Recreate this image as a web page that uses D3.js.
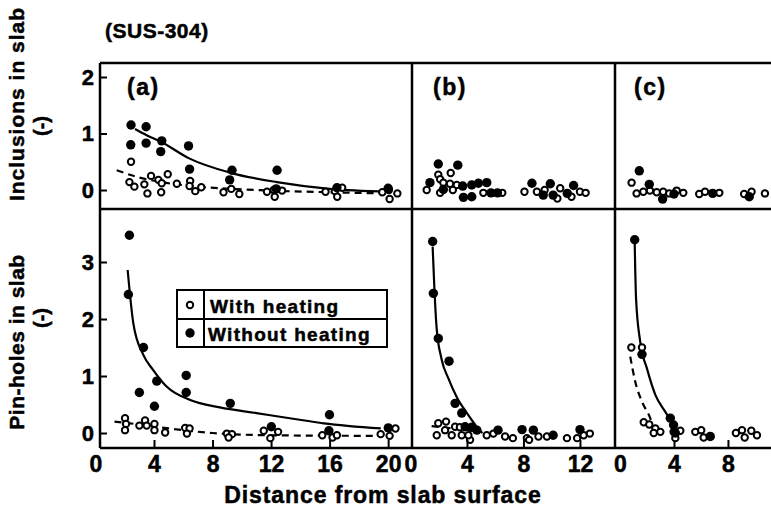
<!DOCTYPE html>
<html><head><meta charset="utf-8">
<script src="https://cdn.jsdelivr.net/npm/d3@7"></script>
<style>
html,body{margin:0;padding:0;background:#fff;}
text{font-family:"Liberation Sans",Arial,sans-serif;font-weight:700;fill:#000;stroke:#000;stroke-width:0.5px;}
</style></head>
<body><svg id="chart" width="771" height="516"></svg>
<script>
// ---------- DATA ----------
const titleText = "(SUS-304)";
const xLabel = "Distance from slab surface";
const yLabelInc = "Inclusions in slab";
const yLabelPin = "Pin-holes in slab";
const unitLabel = "(-)";
const panelNames = ["(a)", "(b)", "(c)"];
const legendLabels = ["With heating", "Without heating"];

const xTicksA = [0, 4, 8, 12, 16, 20];
const xTicksB = [0, 4, 8, 12];
const xTicksC = [0, 4, 8];
const yTicksInc = [0, 1, 2];
const yTicksPin = [0, 1, 2, 3];

// Panel (a) inclusions
const incA_without = [[2.43,1.15],[3.46,1.12],[2.41,0.80],[3.46,0.83],[4.53,0.87],[4.46,0.68],[6.36,0.78],[6.43,0.37],[9.33,0.35],[9.17,0.18],[12.41,0.35],[12.35,0.02],[16.5,0.04],[20.0,0.03]];
const incA_with = [[2.43,0.50],[2.32,0.14],[2.66,0.06],[3.34,0.10],[3.55,-0.06],[3.80,0.25],[4.30,0.18],[4.53,0.12],[4.49,-0.04],[4.94,0.28],[5.56,0.11],[6.47,0.16],[6.43,0.07],[6.82,-0.02],[7.23,0.05],[8.75,-0.04],[9.28,0.02],[9.83,-0.07],[11.72,-0.03],[12.18,0.00],[12.25,-0.12],[12.75,-0.01],[15.72,-0.03],[16.36,-0.02],[16.52,-0.12],[16.86,0.04],[19.60,-0.04],[20.05,0.00],[20.10,-0.16],[20.63,-0.06]];
const incA_fitWithout = [[2.7,1.08],[3.5,0.97],[4.5,0.85],[6.4,0.56],[9.3,0.30],[12.4,0.14],[16.0,0.02],[20.0,-0.03]];
const incA_fitWith = [[1.45,0.35],[3.0,0.22],[4.5,0.14],[7.0,0.06],[11.0,0.0],[16.0,-0.04],[20.0,-0.06]];

// Panel (b) inclusions
const incB_without = [[1.97,0.46],[3.35,0.44],[1.38,0.13],[2.33,0.01],[3.7,0.07],[3.75,-0.13],[4.34,-0.12],[4.34,0.09],[4.81,0.12],[5.4,0.13],[5.7,-0.05],[6.16,-0.05],[8.6,0.12],[9.9,0.11],[9.4,-0.09],[10.1,-0.09],[11.1,-0.06],[11.55,0.08]];
const incB_with = [[2.85,0.30],[1.97,0.27],[1.15,0.0],[2.1,0.19],[2.33,0.13],[2.8,0.11],[3.28,0.09],[2.1,-0.05],[3.0,0.0],[5.16,-0.05],[6.5,-0.05],[8.07,-0.03],[8.95,-0.03],[9.5,0.0],[10.6,0.03],[10.4,-0.15],[11.4,-0.12],[12.0,-0.03],[12.4,-0.05]];

// Panel (c) inclusions
const incC_without = [[1.43,0.34],[2.17,0.10],[3.16,-0.16],[4.0,-0.07],[6.87,-0.06],[9.58,-0.12]];
const incC_with = [[0.86,0.13],[1.23,-0.06],[1.73,-0.03],[2.22,-0.01],[2.72,-0.04],[3.2,-0.03],[3.65,-0.06],[4.2,-0.01],[4.69,-0.05],[5.87,-0.07],[6.3,-0.03],[7.36,-0.05],[9.2,-0.07],[9.75,-0.03],[10.74,-0.06]];

// Panel (a) pin-holes
const pinA_without = [[2.32,3.47],[2.25,2.43],[3.28,1.50],[3.0,0.71],[4.03,0.47],[4.19,0.91],[6.20,1.01],[6.20,0.71],[9.21,0.52],[12.02,0.11],[15.99,0.32],[15.95,0.04],[20.01,0.09]];
const pinA_with = [[2.02,0.26],[2.09,0.16],[2.02,0.05],[3.0,0.13],[3.39,0.22],[3.5,0.13],[4.03,0.16],[4.03,0.05],[4.76,0.01],[6.13,0.09],[6.43,0.08],[6.25,-0.01],[8.98,-0.01],[9.33,-0.02],[9.1,-0.08],[11.5,0.04],[11.95,-0.09],[12.48,0.02],[15.5,-0.04],[16.2,-0.08],[16.5,-0.04],[19.49,-0.02],[20.1,-0.05],[20.5,0.08]];
const pinA_fitWithout = [[2.2,2.86],[2.59,1.92],[3.27,1.37],[3.96,1.10],[4.88,0.81],[6.47,0.58],[8.5,0.45],[11.0,0.35],[13.5,0.25],[15.6,0.17],[19.5,0.08]];
const pinA_fitWith = [[1.3,0.20],[3.0,0.15],[5.0,0.08],[8.0,0.0],[12.0,-0.04],[19.5,-0.05]];

// Panel (b) pin-holes
const pinB_without = [[1.57,3.36],[1.62,2.45],[1.97,1.66],[2.73,1.26],[3.16,0.52],[3.63,0.35],[3.87,0.11],[4.34,0.10],[4.7,0.05],[6.2,0.05],[7.9,0.06],[8.7,0.05],[10.1,-0.04],[12.0,0.06]];
const pinB_with = [[1.97,0.17],[2.52,0.20],[1.86,-0.04],[2.45,0.05],[2.92,-0.04],[3.16,0.11],[3.5,0.10],[3.63,-0.04],[4.22,-0.12],[4.1,-0.04],[5.4,-0.04],[5.87,-0.01],[6.7,-0.06],[7.25,-0.09],[8.24,-0.09],[8.4,-0.12],[9.06,-0.06],[9.66,-0.06],[11.08,-0.09],[11.8,-0.09],[12.26,-0.04],[12.7,-0.01]];
const pinB_fitWithout = [[1.57,3.27],[1.7,2.5],[1.85,1.85],[2.2,1.3],[2.7,0.95],[3.3,0.62],[4.0,0.35],[4.9,0.05],[5.1,0.0]];
const pinB_fitWith = [[1.5,0.12],[3.0,0.08],[4.7,0.04]];

// Panel (c) pin-holes
const pinC_without = [[1.09,3.39],[1.63,1.38],[3.73,0.26],[3.97,0.14],[4.1,0.0],[6.69,-0.06]];
const pinC_with = [[0.84,1.50],[1.63,1.50],[1.76,0.19],[2.17,0.15],[2.62,0.08],[2.5,0.0],[2.99,0.02],[3.97,0.02],[4.47,0.04],[4.1,-0.09],[5.58,0.02],[6.02,0.05],[6.2,-0.08],[8.59,0.0],[9.04,0.05],[9.24,-0.08],[9.73,0.04],[10.15,-0.04]];
const pinC_fitWithout = [[1.09,3.33],[1.19,2.36],[1.5,1.6],[2.0,1.13],[2.62,0.67],[3.36,0.37],[3.97,0.14]];
const pinC_fitWith = [[0.76,1.34],[1.13,0.90],[1.63,0.55],[2.24,0.26],[2.3,0.22]];

// ---------- LAYOUT ----------
const svg = d3.select("#chart");
const top0 = 63, mid = 209, bot = 448;
const colX = [[100, 412], [413, 615], [615, 771]];
const xDomains = [[0.31, 21.63], [0.18, 14.48], [-0.37, 11.19]];
const xTicksAll = [xTicksA, xTicksB, xTicksC];

const yInc = d3.scaleLinear().domain([-0.336, 2.248]).range([mid, top0]);
const yPin = d3.scaleLinear().domain([-0.263, 3.93]).range([bot, mid]);
const xs = xDomains.map((d, i) => d3.scaleLinear().domain(d).range(colX[i]));

const panels = [
  {col:0, y:yInc, without:incA_without, with:incA_with, fitW:incA_fitWithout, fitH:incA_fitWith},
  {col:1, y:yInc, without:incB_without, with:incB_with},
  {col:2, y:yInc, without:incC_without, with:incC_with},
  {col:0, y:yPin, without:pinA_without, with:pinA_with, fitW:pinA_fitWithout, fitH:pinA_fitWith},
  {col:1, y:yPin, without:pinB_without, with:pinB_with, fitW:pinB_fitWithout, fitH:pinB_fitWith},
  {col:2, y:yPin, without:pinC_without, with:pinC_with, fitW:pinC_fitWithout, fitH:pinC_fitWith}
];

const clip = svg.append("defs");
panels.forEach((p, i) => {
  const [x0, x1] = colX[p.col];
  const [ya, yb] = p.y.range();
  clip.append("clipPath").attr("id", "c" + i).append("rect")
    .attr("x", x0).attr("y", yb).attr("width", x1 - x0 + 6).attr("height", ya - yb);
});

panels.forEach((p, i) => {
  const x = xs[p.col], y = p.y;
  const g = svg.append("g").attr("clip-path", "url(#c" + i + ")");
  const line = d3.line().x(d => x(d[0])).y(d => y(d[1])).curve(d3.curveMonotoneX);
  if (p.fitW) g.append("path").datum(p.fitW).attr("d", line)
    .attr("fill", "none").attr("stroke", "#000").attr("stroke-width", 2.2);
  if (p.fitH) g.append("path").datum(p.fitH).attr("d", line)
    .attr("fill", "none").attr("stroke", "#000").attr("stroke-width", 2.2).attr("stroke-dasharray", "7,5");
  g.selectAll("circle.o").data(p.with).join("circle")
    .attr("cx", d => x(d[0])).attr("cy", d => y(d[1])).attr("r", 3.2)
    .attr("fill", "#fff").attr("stroke", "#000").attr("stroke-width", 2);
  g.selectAll("circle.f").data(p.without).join("circle")
    .attr("cx", d => x(d[0])).attr("cy", d => y(d[1])).attr("r", 4.7)
    .attr("fill", "#000");
});

// frames
const frame = svg.append("g").attr("stroke", "#000").attr("stroke-width", 2.5).attr("fill", "none");
frame.append("line").attr("x1", 100).attr("x2", 771).attr("y1", top0).attr("y2", top0);
frame.append("line").attr("x1", 100).attr("x2", 771).attr("y1", mid).attr("y2", mid);
frame.append("line").attr("x1", 100).attr("x2", 771).attr("y1", bot).attr("y2", bot);
[100, 412, 615].forEach(xx => frame.append("line").attr("x1", xx).attr("x2", xx).attr("y1", top0).attr("y2", bot));

// axes
function styleAxis(sel, fs) {
  sel.select(".domain").remove();
  sel.selectAll(".tick line").attr("stroke", "#000").attr("stroke-width", 2);
  sel.selectAll(".tick text").style("font-size", fs + "px").style("font-family", '"Liberation Sans",Arial,sans-serif')
    .style("font-weight", 700).style("stroke", "#000").style("stroke-width", "0.5px");
}
svg.append("g").attr("transform", "translate(100,0)")
  .call(d3.axisLeft(yInc).tickValues(yTicksInc).tickFormat(d3.format("d")).tickSizeInner(-7).tickSizeOuter(0).tickPadding(6))
  .call(s => styleAxis(s, 22));
svg.append("g").attr("transform", "translate(100,0)")
  .call(d3.axisLeft(yPin).tickValues(yTicksPin).tickFormat(d3.format("d")).tickSizeInner(-7).tickSizeOuter(0).tickPadding(6))
  .call(s => styleAxis(s, 22));
xs.forEach((x, i) => {
  svg.append("g").attr("transform", "translate(0," + bot + ")")
    .call(d3.axisBottom(x).tickValues(xTicksAll[i]).tickFormat(d3.format("d")).tickSizeInner(-8).tickSizeOuter(0).tickPadding(8))
    .call(s => styleAxis(s, 23))
    .call(s => s.selectAll(".tick").filter(d => d === 0).select("line").remove());
});

// panel labels
const lblX = [127, 433, 634];
panelNames.forEach((t, i) => svg.append("text").attr("x", lblX[i]).attr("y", 95)
  .style("font-size", "23px").style("letter-spacing", "1.5px").text(t));

// title
svg.append("text").attr("x", 105).attr("y", 38).style("font-size", "21px").style("letter-spacing", "0.5px").text(titleText);

// x label
svg.append("text").attr("x", 383).attr("y", 503).attr("text-anchor", "middle")
  .style("font-size", "23px").style("letter-spacing", "0.9px").text(xLabel);

// y labels
svg.append("text").attr("transform", "translate(24,104) rotate(-90)").attr("text-anchor", "middle")
  .style("font-size", "21px").style("letter-spacing", "1px").text(yLabelInc);
svg.append("text").attr("transform", "translate(24,342) rotate(-90)").attr("text-anchor", "middle")
  .style("font-size", "21px").style("letter-spacing", "0.5px").text(yLabelPin);
svg.append("text").attr("transform", "translate(48,126) rotate(-90)").attr("text-anchor", "middle").style("font-size", "20px").text(unitLabel);
svg.append("text").attr("transform", "translate(48,318) rotate(-90)").attr("text-anchor", "middle").style("font-size", "20px").text(unitLabel);

// legend
const lg = svg.append("g");
lg.append("rect").attr("x", 177).attr("y", 290).attr("width", 210).attr("height", 57)
  .attr("fill", "#fff").attr("stroke", "#000").attr("stroke-width", 2);
lg.append("line").attr("x1", 177).attr("x2", 387).attr("y1", 319).attr("y2", 319).attr("stroke", "#000").attr("stroke-width", 2);
lg.append("line").attr("x1", 204).attr("x2", 204).attr("y1", 290).attr("y2", 347).attr("stroke", "#000").attr("stroke-width", 2);
lg.append("circle").attr("cx", 190).attr("cy", 305).attr("r", 3.2).attr("fill", "#fff").attr("stroke", "#000").attr("stroke-width", 2);
lg.append("circle").attr("cx", 190).attr("cy", 333).attr("r", 4.7).attr("fill", "#000");
lg.append("text").attr("x", 210).attr("y", 313).style("font-size", "19px").style("letter-spacing", "1.3px").text(legendLabels[0]);
lg.append("text").attr("x", 208).attr("y", 341).style("font-size", "19px").style("letter-spacing", "1.3px").text(legendLabels[1]);
</script></body></html>
